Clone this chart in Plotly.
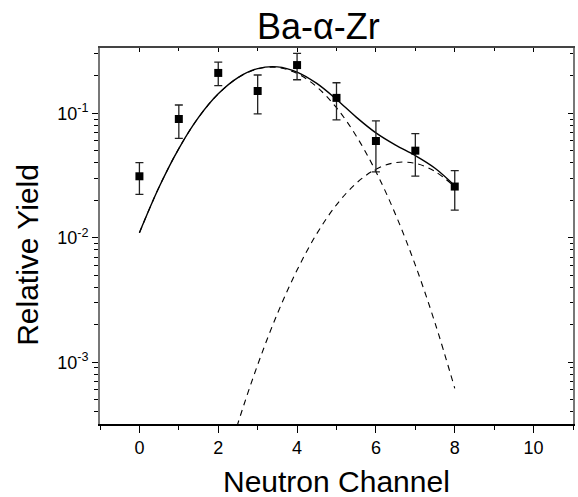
import plotly.graph_objects as go

# Measured points
channels = [0, 1, 2, 3, 4, 5, 6, 7, 8]
yield_vals = [0.0312, 0.090, 0.211, 0.151, 0.244, 0.133, 0.0599, 0.0501, 0.0258]
yield_upper = [0.0402, 0.1166, 0.258, 0.203, 0.303, 0.176, 0.0868, 0.0686, 0.0346]
yield_lower = [0.0223, 0.063, 0.167, 0.099, 0.186, 0.0884, 0.0338, 0.0313, 0.0167]

# Fit curves
curve_x = [0, 0.5, 1, 1.5, 2, 2.5, 3, 3.5, 4, 4.5, 5, 5.5, 6, 6.5, 7, 7.5, 8]
total_fit = [0.0110, 0.0256, 0.0521, 0.0926, 0.1433, 0.1935, 0.2285, 0.2360, 0.2144,
             0.1737, 0.1293, 0.0932, 0.0696, 0.0555, 0.0457, 0.0362, 0.0262]
comp1_fit = [0.01096, 0.02564, 0.0521, 0.0926, 0.1432, 0.1932, 0.2275, 0.2335, 0.2089,
             0.1629, 0.1109, 0.0658, 0.0340, 0.01534, 0.00603, 0.00207, 0.000618]
comp2_x = [2, 2.5, 3, 3.5, 4, 4.5, 5, 5.5, 6, 6.5, 7, 7.5, 8]
comp2_fit = [0.000095, 0.000324, 0.000955, 0.002456, 0.00551, 0.01079, 0.01841, 0.02740,
             0.03556, 0.04018, 0.03963, 0.03411, 0.02559]

x_tickvals = [0, 2, 4, 6, 8, 10]
y_tickvals = [0.001, 0.01, 0.1]
y_ticktext = ["10<sup>-3</sup>", "10<sup>-2</sup>", "10<sup>-1</sup>"]
y_minor = [m * 10.0 ** e for e in (-4, -3, -2, -1) for m in range(2, 10)]

FONT = "Arial, Liberation Sans, sans-serif"
X_RANGE = [-1, 11]
Y_RANGE = [-3.4956, -0.4755]

fig = go.Figure()

fig.add_trace(go.Scatter(x=curve_x, y=comp1_fit, mode="lines", line_shape="spline",
                         line=dict(color="black", width=1.1, dash="6px,5px"),
                         showlegend=False, hoverinfo="skip"))
fig.add_trace(go.Scatter(x=comp2_x, y=comp2_fit, mode="lines", line_shape="spline",
                         line=dict(color="black", width=1.1, dash="6px,5px"),
                         showlegend=False, hoverinfo="skip"))
fig.add_trace(go.Scatter(x=curve_x, y=total_fit, mode="lines", line_shape="spline",
                         line=dict(color="black", width=1.4),
                         showlegend=False, hoverinfo="skip"))

fig.add_trace(go.Scatter(
    x=channels, y=yield_vals, mode="markers",
    marker=dict(symbol="square", size=8, color="black"),
    error_y=dict(type="data", symmetric=False,
                 array=[u - v for u, v in zip(yield_upper, yield_vals)],
                 arrayminus=[v - l for v, l in zip(yield_vals, yield_lower)],
                 color="#222222", thickness=1.3, width=4),
    showlegend=False))

# dummy trace to create the mirrored top/right axes
fig.add_trace(go.Scatter(x=[None], y=[None], xaxis="x2", yaxis="y2",
                         showlegend=False, hoverinfo="skip"))

fig.update_layout(
    width=578, height=497,
    margin=dict(l=100, r=5, t=48, b=73),
    paper_bgcolor="white", plot_bgcolor="white",
    font=dict(family=FONT, color="black"),
    xaxis=dict(range=X_RANGE, tickvals=x_tickvals, ticks="outside", ticklen=7,
               tickwidth=1.2, tickcolor="black", showline=True, linecolor="black",
               linewidth=1.5, showgrid=False, zeroline=False,
               tickfont=dict(size=18, family=FONT),
               minor=dict(dtick=1, tick0=0, ticks="outside", ticklen=4,
                          tickcolor="black", tickwidth=1, showgrid=False)),
    yaxis=dict(type="log", range=Y_RANGE, tickvals=y_tickvals, ticktext=y_ticktext,
               ticks="outside", ticklen=6, tickwidth=1.2, tickcolor="black",
               showline=True, linecolor="#777777", linewidth=2, showgrid=False,
               zeroline=False, tickfont=dict(size=18, family=FONT),
               minor=dict(tickvals=y_minor, ticks="outside", ticklen=4,
                          tickcolor="black", tickwidth=1, showgrid=False)),
    xaxis2=dict(overlaying="x", side="top", range=X_RANGE, tickvals=x_tickvals,
                ticks="inside", ticklen=4, tickcolor="black", tickwidth=1,
                showticklabels=False, showline=True, linecolor="#444444", linewidth=1.5,
                showgrid=False, zeroline=False,
                minor=dict(dtick=1, tick0=0, ticks="inside", ticklen=3,
                           tickcolor="black", showgrid=False)),
    yaxis2=dict(overlaying="y", side="right", type="log", range=Y_RANGE,
                tickvals=y_tickvals, ticks="inside", ticklen=5, tickcolor="black",
                tickwidth=1, showticklabels=False, showline=True, linecolor="#777777",
                linewidth=1.5, showgrid=False, zeroline=False,
                minor=dict(tickvals=y_minor, ticks="inside", ticklen=3,
                           tickcolor="black", showgrid=False)),
    annotations=[
        dict(text="Ba-α-Zr", xref="paper", yref="paper", x=0.462, y=1.056,
             xanchor="center", yanchor="middle", showarrow=False,
             font=dict(size=36, family=FONT, color="black")),
        dict(text="Neutron Channel", xref="paper", yref="paper", x=0.5, y=-0.152,
             xanchor="center", yanchor="middle", showarrow=False,
             font=dict(size=30, family=FONT, color="black")),
        dict(text="Relative Yield", xref="paper", yref="paper", x=-0.155, y=0.449,
             xanchor="center", yanchor="middle", showarrow=False, textangle=-90,
             font=dict(size=30, family=FONT, color="black")),
    ],
)

fig.write_html(
    "out.html",
    config={"displayModeBar": False},
    post_script="document.body.style.margin='0';document.body.style.overflow='hidden';",
)
